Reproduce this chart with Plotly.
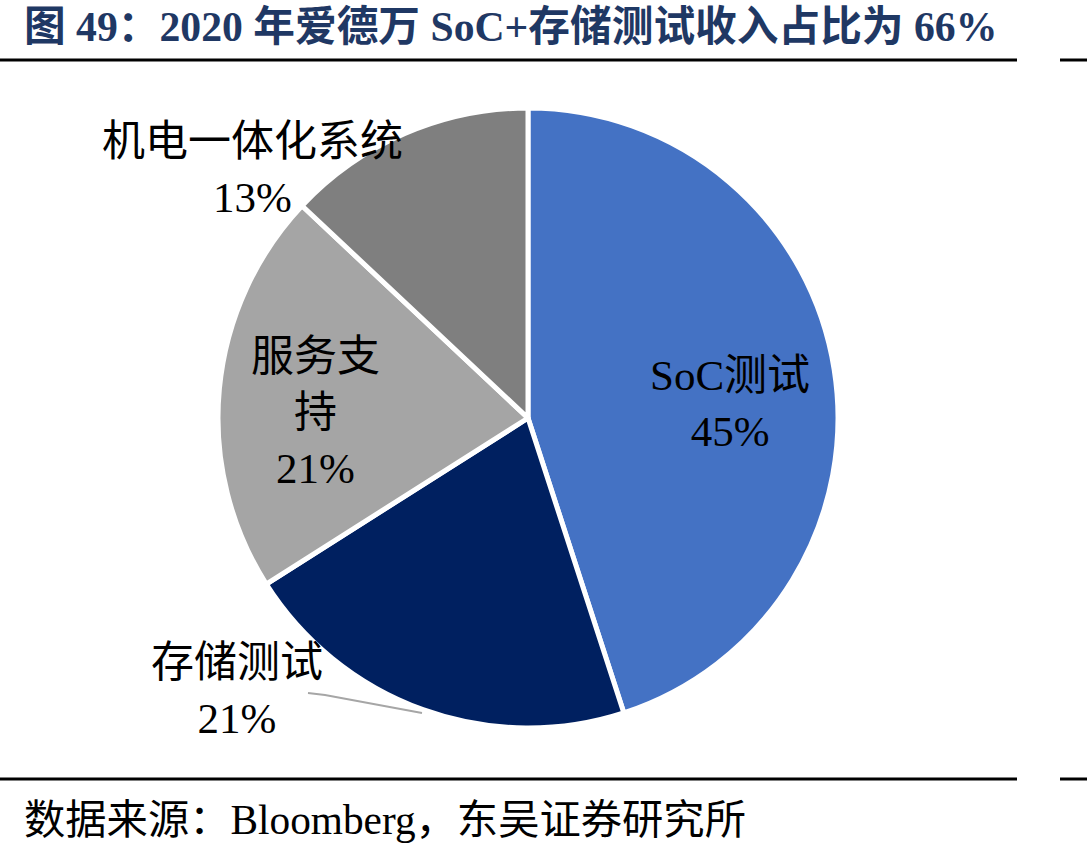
import plotly.graph_objects as go

W, H = 1087, 852

labels = ["SoC测试", "存储测试", "服务支持", "机电一体化系统"]
label_lines = ["SoC测试", "存储测试", "服务支<br>持", "机电一体化系统"]
values = [45, 21, 21, 13]
colors = ["#4472C4", "#002060", "#A5A5A5", "#7F7F7F"]

title_text = "图 49：2020 年爱德万 SoC+存储测试收入占比为 66%"
source_text = "数据来源：Bloomberg，东吴证券研究所"

FONT = "Liberation Serif, 'Noto Sans CJK SC', serif"

def px(x):
    return x / W

def py(y):
    return 1 - y / H

cx, cy, r = 528, 418, 310

fig = go.Figure(go.Pie(
    labels=labels,
    values=values,
    sort=False,
    direction="clockwise",
    rotation=0,
    marker=dict(colors=colors, line=dict(color="white", width=5)),
    textinfo="none",
    hoverinfo="label+percent",
    showlegend=False,
    domain=dict(x=[px(cx - r), px(cx + r)], y=[py(cy + r), py(cy - r)]),
))

total = sum(values)
pcts = [round(v / total * 100) for v in values]
label_pos = [(730, 404), (237, 690), (315, 412), (252, 169)]

annotations = []
for lab, p, (x, y) in zip(label_lines, pcts, label_pos):
    annotations.append(dict(
        x=px(x), y=py(y), xref="paper", yref="paper",
        text=f"{lab}<br>{p}%", showarrow=False,
        xanchor="center", yanchor="middle", align="center",
        font=dict(family=FONT, size=43, color="black"),
    ))

annotations.append(dict(
    x=px(22), y=py(27), xref="paper", yref="paper",
    text=f"<b>{title_text}</b>", showarrow=False,
    xanchor="left", yanchor="middle",
    font=dict(family=FONT, size=41.7, color="#1F3864"),
))
annotations.append(dict(
    x=px(22), y=py(820), xref="paper", yref="paper",
    text=source_text, showarrow=False,
    xanchor="left", yanchor="middle",
    font=dict(family=FONT, size=41.3, color="black"),
))

shapes = []
for yy in (60, 779):
    shapes.append(dict(type="line", xref="paper", yref="paper",
                       x0=0, x1=px(1017), y0=py(yy), y1=py(yy),
                       line=dict(color="black", width=3)))
    shapes.append(dict(type="line", xref="paper", yref="paper",
                       x0=px(1060), x1=1, y0=py(yy), y1=py(yy),
                       line=dict(color="black", width=3)))
# leader line for 存储测试
shapes.append(dict(type="path", xref="paper", yref="paper",
                   path=f"M {px(308)},{py(693)} L {px(325)},{py(695)} L {px(422)},{py(713)}",
                   line=dict(color="#A6A6A6", width=2)))

fig.update_layout(
    width=W, height=H,
    margin=dict(l=0, r=0, t=0, b=0),
    paper_bgcolor="white", plot_bgcolor="white",
    annotations=annotations, shapes=shapes,
)

fig.write_html("out.html")
